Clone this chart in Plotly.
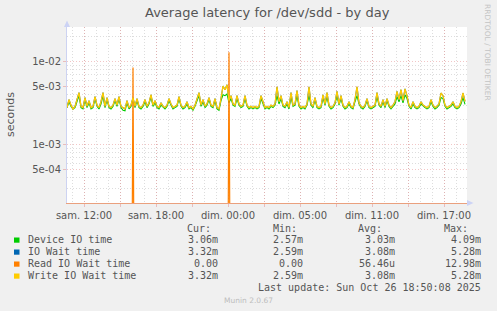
import plotly.graph_objects as go

# ---------------- data (milliseconds, 10-minute samples) ----------------
start_hours = -17 / 12.0          # first sample, hours relative to "sam. 12:00"
step_minutes = 10

write_ms = [
    2.8, 3.5, 3.0, 2.7, 2.9, 3.6, 4.25, 2.9, 2.8, 3.7,
    2.9, 3.4, 2.8, 2.9, 3.8, 3.0, 2.8, 3.3, 4.25, 2.9,
    3.7, 2.9, 2.8, 3.0, 3.6, 3.0, 3.8, 2.9, 2.8, 2.7,
    3.4, 2.8, 3.0, 3.7, 2.9, 3.6, 2.9, 2.8, 3.0, 3.5,
    2.9, 3.2, 4.0, 3.0, 3.4, 2.9, 2.8, 3.2, 2.9, 2.8,
    3.0, 3.6, 3.1, 2.8, 2.9, 3.0, 3.8, 3.0, 2.8, 2.9,
    3.3, 2.8, 2.9, 2.7, 3.0, 3.6, 4.25, 3.0, 3.5, 2.9,
    3.1, 3.7, 3.0, 2.9, 3.6, 2.8, 2.7, 3.6, 5.1, 4.6,
    5.28, 3.4, 3.9, 3.1, 3.0, 3.9, 3.1, 2.9, 3.0, 3.9,
    3.0, 2.8, 2.9, 2.8, 2.9, 2.8, 2.9, 3.9, 3.2, 2.8,
    2.9, 2.8, 3.0, 2.9, 3.1, 5.0, 3.3, 3.9, 3.0, 2.9,
    3.3, 2.8, 4.25, 3.0, 3.1, 4.5, 3.0, 2.8, 2.9, 2.8,
    3.1, 5.0, 3.1, 2.9, 3.7, 2.9, 2.8, 2.9, 4.0, 3.1,
    4.25, 3.0, 2.8, 2.9, 3.2, 4.4, 3.1, 3.9, 3.0, 2.8,
    2.9, 3.3, 2.9, 2.8, 3.5, 5.0, 3.2, 2.9, 2.8, 3.0,
    3.6, 2.9, 2.8, 2.9, 3.0, 4.25, 3.1, 2.9, 3.5, 2.9,
    3.6, 3.0, 2.8, 3.0, 3.3, 4.4, 3.5, 4.6, 3.4, 4.7,
    3.9, 3.0, 2.8, 3.3, 2.9, 2.8, 2.9, 3.3, 3.0, 2.9,
    2.8, 2.9, 3.5, 3.0, 2.8, 2.9, 3.1, 4.2, 3.9, 3.0,
    2.8, 2.9, 3.0, 3.3, 2.9, 2.8, 2.9, 3.3, 4.2, 3.32,
]

device_ms = [
    2.8, 3.3, 2.9, 2.7, 2.8, 3.4, 3.9, 2.8, 2.7, 3.5,
    2.8, 3.2, 2.7, 2.8, 3.6, 2.9, 2.7, 3.1, 3.9, 2.8,
    3.5, 2.8, 2.7, 2.9, 3.4, 2.9, 3.6, 2.8, 2.6, 2.57,
    3.2, 2.7, 2.9, 3.5, 2.8, 3.4, 2.8, 2.7, 2.9, 3.3,
    2.8, 3.1, 3.8, 2.9, 3.2, 2.8, 2.7, 3.0, 2.8, 2.7,
    2.9, 3.4, 3.0, 2.7, 2.8, 2.9, 3.6, 2.9, 2.7, 2.8,
    3.1, 2.7, 2.8, 2.6, 2.9, 3.4, 3.9, 2.9, 3.3, 2.8,
    3.0, 3.5, 2.9, 2.8, 3.4, 2.7, 2.6, 3.4, 4.0, 3.9,
    4.09, 3.2, 3.6, 3.0, 2.9, 3.6, 3.0, 2.8, 2.9, 3.6,
    2.9, 2.7, 2.8, 2.7, 2.8, 2.7, 2.8, 3.6, 3.1, 2.7,
    2.8, 2.7, 2.9, 2.8, 3.0, 3.9, 3.1, 3.6, 2.9, 2.8,
    3.1, 2.7, 3.8, 2.9, 3.0, 3.9, 2.9, 2.7, 2.8, 2.7,
    3.0, 3.9, 3.0, 2.8, 3.5, 2.8, 2.7, 2.8, 3.7, 3.0,
    3.8, 2.9, 2.7, 2.8, 3.1, 3.9, 3.0, 3.6, 2.9, 2.7,
    2.8, 3.1, 2.8, 2.7, 3.3, 3.9, 3.1, 2.8, 2.7, 2.9,
    3.4, 2.8, 2.7, 2.8, 2.9, 3.8, 3.0, 2.8, 3.3, 2.8,
    3.4, 2.9, 2.7, 2.9, 3.1, 3.8, 3.3, 3.9, 3.2, 4.0,
    3.6, 2.9, 2.7, 3.1, 2.8, 2.7, 2.8, 3.1, 2.9, 2.8,
    2.7, 2.8, 3.3, 2.9, 2.7, 2.8, 3.0, 3.7, 3.6, 2.9,
    2.7, 2.8, 2.9, 3.1, 2.8, 2.7, 2.8, 3.1, 3.7, 3.06,
]

# IO wait time is identical to write IO wait time in the source (same Cur/Min/Avg/Max)
io_wait_ms = list(write_ms)

read_ms = [
    0, 0, 0, 0, 0, 0, 0, 0, 0, 0,
    0, 0, 0, 0, 0, 0, 0, 0, 0, 0,
    0, 0, 0, 0, 0, 0, 0, 0, 0, 0,
    0, 0, 0, 8.5, 0, 0, 0, 0, 0, 0,
    0, 0, 0, 0, 0, 0, 0, 0, 0, 0,
    0, 0, 0, 0, 0, 0, 0, 0, 0, 0,
    0, 0, 0, 0, 0, 0, 0, 0, 0, 0,
    0, 0, 0, 0, 0, 0, 0, 0, 0, 0,
    0, 12.98, 0, 0, 0, 0, 0, 0, 0, 0,
    0, 0, 0, 0, 0, 0, 0, 0, 0, 0,
    0, 0, 0, 0, 0, 0, 0, 0, 0, 0,
    0, 0, 0, 0, 0, 0, 0, 0, 0, 0,
    0, 0, 0, 0, 0, 0, 0, 0, 0, 0,
    0, 0, 0, 0, 0, 0, 0, 0, 0, 0,
    0, 0, 0, 0, 0, 0, 0, 0, 0, 0,
    0, 0, 0, 0, 0, 0, 0, 0, 0, 0,
    0, 0, 0, 0, 0, 0, 0, 0, 0, 0,
    0, 0, 0, 0, 0, 0, 0, 0, 0, 0,
    0, 0, 0, 0, 0, 0, 0, 0, 0, 0,
    0, 0, 0, 0, 0, 0, 0, 0, 0, 0,
]

series_names = ["Device IO time", "IO Wait time", "Read IO Wait time", "Write IO Wait time"]
series_colors = ["#00cc00", "#0066b3", "#ff8000", "#ffcc00"]
stat_cur = ["3.06m", "3.32m", "0.00", "3.32m"]
stat_min = ["2.57m", "2.59m", "0.00", "2.59m"]
stat_avg = ["3.03m", "3.08m", "56.46u", "3.08m"]
stat_max = ["4.09m", "5.28m", "12.98m", "5.28m"]

x_tickvals = [0, 3, 6, 9, 12, 15, 18, 21, 24, 27, 30]
x_ticktext = ["sam. 12:00", "", "sam. 18:00", "", "dim. 00:00", "", "dim. 05:00", "",
              "dim. 11:00", "", "dim. 17:00"]
y_tickvals = [5e-4, 1e-3, 5e-3, 1e-2]
y_ticktext = ["5e-04", "1e-03", "5e-03", "1e-02"]
y_minorvals = [2e-4, 3e-4, 4e-4, 6e-4, 7e-4, 8e-4, 9e-4,
               2e-3, 3e-3, 4e-3, 6e-3, 7e-3, 8e-3, 9e-3, 2e-2]

title_text = "Average latency for /dev/sdd - by day"
last_update = "Last update: Sun Oct 26 18:50:08 2025"

# ---------------- layout geometry (pixels) ----------------
W, H = 497, 311
PL, PR, PT, PB = 67, 467, 27, 203


def px(xp):
    return (xp - PL) / (PR - PL)


def py(yp):
    return (PB - yp) / (PB - PT)


n = len(write_ms)
x_hours = [start_hours + i * step_minutes / 60.0 for i in range(n)]
x_range = [start_hours, start_hours + (PR - PL) / 12.0]

fig = go.Figure()
floor = 1e-7  # zeros cannot be shown on a log axis: drawn below the visible range
all_series = [device_ms, io_wait_ms, read_ms, write_ms]
widths = [1.1, 1.1, 1.2, 1.3]
for name, col, vals, w in zip(series_names, series_colors, all_series, widths):
    yv = [v / 1000.0 if v > 0 else floor for v in vals]
    fig.add_trace(go.Scatter(x=x_hours, y=yv, mode="lines", name=name,
                             line=dict(color=col, width=w), showlegend=False,
                             hoverinfo="skip"))

MAJ = "rgba(225,120,120,0.42)"
MIN = "rgba(150,150,150,0.32)"
TXT = "#555555"

fig.update_layout(
    width=W, height=H, autosize=False,
    margin=dict(l=PL, r=W - PR, t=PT, b=H - PB, pad=0),
    paper_bgcolor="#f0f0f0", plot_bgcolor="#ffffff",
    font=dict(family="DejaVu Sans", size=10, color=TXT),
    xaxis=dict(
        range=x_range, tickmode="array", tickvals=x_tickvals, ticktext=x_ticktext,
        showgrid=True, gridcolor=MAJ, griddash="1px,2px", gridwidth=1,
        ticks="outside", ticklen=3, tickcolor=MAJ,
        showline=True, linecolor="#eaa07e", linewidth=1,
        zeroline=False, tickfont=dict(size=10, color=TXT),
        minor=dict(tickmode="linear", tick0=0, dtick=1, showgrid=True,
                   gridcolor=MIN, griddash="1px,2px", ticks=""),
    ),
    yaxis=dict(
        type="log", range=[-3.701, -1.582], tickmode="array",
        tickvals=y_tickvals, ticktext=y_ticktext,
        showgrid=True, gridcolor=MAJ, griddash="1px,2px",
        ticks="outside", ticklen=3, tickcolor=MAJ,
        showline=True, linecolor="#cdd3f2", linewidth=1,
        zeroline=False, tickfont=dict(size=10, color=TXT),
        minor=dict(tickmode="array", tickvals=y_minorvals, showgrid=True,
                   gridcolor=MIN, griddash="1px,2px", ticks=""),
    ),
)

ann = []
ann.append(dict(x=px(267), y=py(13), xref="paper", yref="paper", text=title_text,
                showarrow=False, xanchor="center", yanchor="middle",
                font=dict(family="DejaVu Sans", size=13, color="#555555")))
ann.append(dict(x=px(10), y=py(115), xref="paper", yref="paper", text="seconds",
                showarrow=False, textangle=-90, xanchor="center", yanchor="middle",
                font=dict(family="DejaVu Sans", size=11, color=TXT)))
ann.append(dict(x=px(488), y=py(52), xref="paper", yref="paper",
                text="RRDTOOL / TOBI OETIKER", showarrow=False, textangle=90,
                xanchor="center", yanchor="middle",
                font=dict(family="DejaVu Sans", size=7.5, color="#c4c4c4")))

MONO = "DejaVu Sans Mono"
headers = [("Cur:", 212.7), ("Min:", 299), ("Avg:", 384), ("Max:", 470)]
for h, xr in headers:
    ann.append(dict(x=px(xr), y=py(228.5), xref="paper", yref="paper", text=h,
                    showarrow=False, xanchor="right", yanchor="middle",
                    font=dict(family=MONO, size=10, color=TXT)))

row_y = [239.7, 251.7, 263.7, 275.7]
shapes = []
for i, name in enumerate(series_names):
    yy = row_y[i]
    shapes.append(dict(type="rect", xref="paper", yref="paper",
                       x0=px(14), x1=px(19.5), y0=py(yy - 2.2), y1=py(yy + 3.0),
                       fillcolor=series_colors[i], line=dict(width=0)))
    ann.append(dict(x=px(26), y=py(yy), xref="paper", yref="paper", text=name,
                    showarrow=False, xanchor="left", yanchor="middle",
                    font=dict(family=MONO, size=10, color=TXT)))
    for vals, xr in ((stat_cur, 220), (stat_min, 305), (stat_avg, 397), (stat_max, 483)):
        ann.append(dict(x=px(xr), y=py(yy), xref="paper", yref="paper",
                        text=vals[i], showarrow=False, xanchor="right", yanchor="middle",
                        font=dict(family=MONO, size=10, color=TXT)))

ann.append(dict(x=px(483), y=py(287.7), xref="paper", yref="paper", text=last_update,
                showarrow=False, xanchor="right", yanchor="middle",
                font=dict(family=MONO, size=10, color=TXT)))
ann.append(dict(x=px(248), y=py(300.5), xref="paper", yref="paper", text="Munin 2.0.67",
                showarrow=False, xanchor="center", yanchor="middle",
                font=dict(family="DejaVu Sans", size=7.5, color="#bdbdbd")))

# axis arrows
shapes.append(dict(type="path", xref="paper", yref="paper",
                   path=f"M {px(64)},{py(27)} L {px(70)},{py(27)} L {px(67)},{py(20.5)} Z",
                   fillcolor="#ccd3f5", line=dict(width=0)))
shapes.append(dict(type="path", xref="paper", yref="paper",
                   path=f"M {px(467)},{py(200)} L {px(467)},{py(206)} L {px(473.5)},{py(203)} Z",
                   fillcolor="#ccd3f5", line=dict(width=0)))

fig.update_layout(annotations=ann, shapes=shapes)

fig.write_html("out.html", config={"displayModeBar": False})
